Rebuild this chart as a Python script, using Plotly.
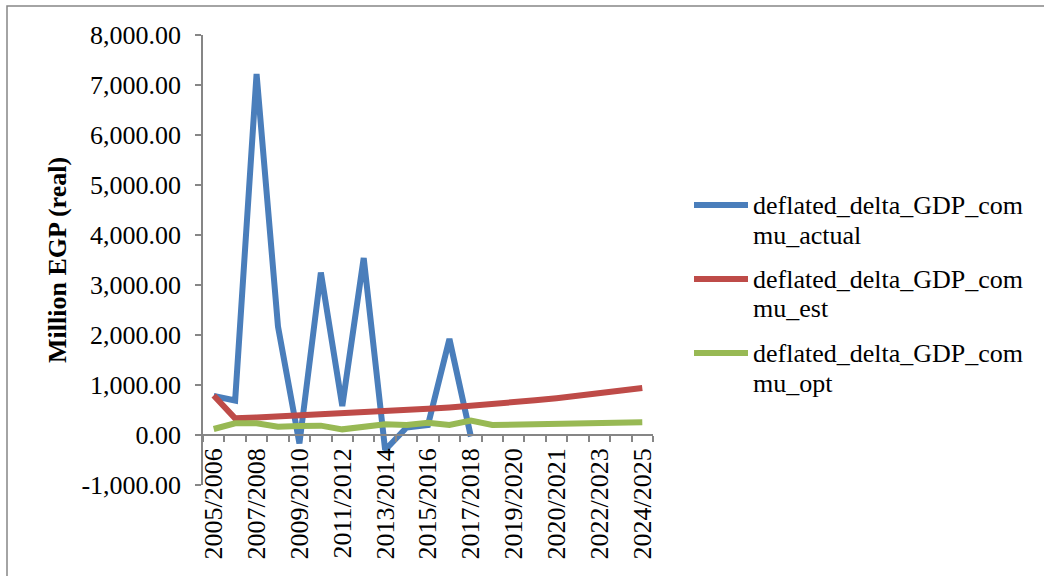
import plotly.graph_objects as go

# Fiscal-year periods along the horizontal axis
periods = [
    "2005/2006", "2006/2007", "2007/2008", "2008/2009", "2009/2010",
    "2010/2011", "2011/2012", "2012/2013", "2013/2014", "2014/2015",
    "2015/2016", "2016/2017", "2017/2018", "2018/2019", "2019/2020",
    "2019/2020", "2020/2021", "2021/2022", "2022/2023", "2023/2024",
    "2024/2025",
]

# Deflated change in communications GDP (million EGP, real)
actual = [780, 690, 7220, 2170, -170, 3250, 580, 3540, -300, 150, 200, 1920, -30]
estimated = [790, 333, 350, 368, 387, 407, 428, 450, 473, 498, 524, 551, 580,
             615, 653, 693, 736, 782, 831, 884, 940]
optimal = [120, 233, 233, 167, 180, 187, 113, 153, 213, 200, 247, 200, 287,
           200, 205, 210, 218, 225, 235, 243, 253]

series_names = [
    "deflated_delta_GDP_commu_actual",
    "deflated_delta_GDP_commu_est",
    "deflated_delta_GDP_commu_opt",
]
series_colors = ["#4A7EBB", "#BE4B48", "#98B954"]

y_ticks = [-1000, 0, 1000, 2000, 3000, 4000, 5000, 6000, 7000, 8000]
y_tick_labels = ["-1,000.00", "0.00", "1,000.00", "2,000.00", "3,000.00",
                 "4,000.00", "5,000.00", "6,000.00", "7,000.00", "8,000.00"]

FONT = "Liberation Serif"
AXIS_GREY = "#868686"
LINE_W = 6

fig = go.Figure()
for name, values, color in zip(series_names, [actual, estimated, optimal], series_colors):
    fig.add_trace(go.Scatter(
        x=list(range(len(values))),
        y=values,
        mode="lines",
        name=name,
        line=dict(color=color, width=LINE_W),
        showlegend=False,
    ))

# Plot area geometry in pixels
W, H = 1044, 576
L, T, PW, PH = 203, 35, 450, 450


def px_x(p):
    return (p - L) / PW


def px_y(p):
    return (T + PH - p) / PH


fig.update_layout(
    width=W, height=H,
    margin=dict(l=L, r=W - L - PW, t=T, b=H - T - PH, pad=0),
    paper_bgcolor="white",
    plot_bgcolor="white",
    font=dict(family=FONT, size=26, color="black"),
    showlegend=False,
)

zero_pos = 1000 / 9000
fig.update_xaxes(
    range=[-0.5, len(periods) - 0.5],
    anchor="free", position=zero_pos,
    showgrid=False, zeroline=False,
    showline=True, linecolor=AXIS_GREY, linewidth=1.5,
    tickmode="array",
    tickvals=list(range(0, len(periods), 2)),
    ticktext=periods[::2],
    tickangle=-90,
    ticks="",
    ticklabelstandoff=2,
    tickfont=dict(family=FONT, size=26, color="black"),
    minor=dict(
        tickmode="array",
        tickvals=[i - 0.5 for i in range(len(periods) + 1)],
        ticks="outside", ticklen=6, tickcolor=AXIS_GREY, tickwidth=1.5,
        showgrid=False,
    ),
    automargin=False,
)
fig.update_yaxes(
    range=[-1000, 8000],
    showgrid=False, zeroline=False,
    showline=True, linecolor=AXIS_GREY, linewidth=1.5,
    tickmode="array", tickvals=y_ticks, ticktext=y_tick_labels,
    ticks="outside", ticklen=6, tickcolor=AXIS_GREY, tickwidth=1.5,
    ticklabelstandoff=9,
    tickfont=dict(family=FONT, size=26, color="black"),
    automargin=False,
)

# Y-axis title
fig.add_annotation(
    text="<b>Million EGP (real)</b>", textangle=-90,
    xref="paper", yref="paper", x=px_x(57), y=0.5,
    xanchor="center", yanchor="middle", showarrow=False,
    font=dict(family=FONT, size=26, color="black"),
)

# Legend drawn beside the plot: colour sample plus two-line label
legend_rows = [205, 279, 353]
for name, color, row in zip(series_names, series_colors, legend_rows):
    fig.add_shape(
        type="line", xref="paper", yref="paper",
        x0=px_x(694), x1=px_x(748), y0=px_y(row), y1=px_y(row),
        line=dict(color=color, width=LINE_W),
    )
    first, second = name[:22], name[22:]
    for text, yy in ((first, row), (second, row + 30)):
        fig.add_annotation(
            text=text, xref="paper", yref="paper",
            x=px_x(751), y=px_y(yy), xanchor="left", yanchor="middle",
            showarrow=False, font=dict(family=FONT, size=26, color="black"),
        )

# Chart frame
fig.add_shape(
    type="rect", xref="paper", yref="paper",
    x0=px_x(7), x1=px_x(1060), y0=px_y(590), y1=px_y(6),
    line=dict(color=AXIS_GREY, width=1.5), fillcolor="rgba(0,0,0,0)",
    layer="below",
)

fig.write_html("out.html")
